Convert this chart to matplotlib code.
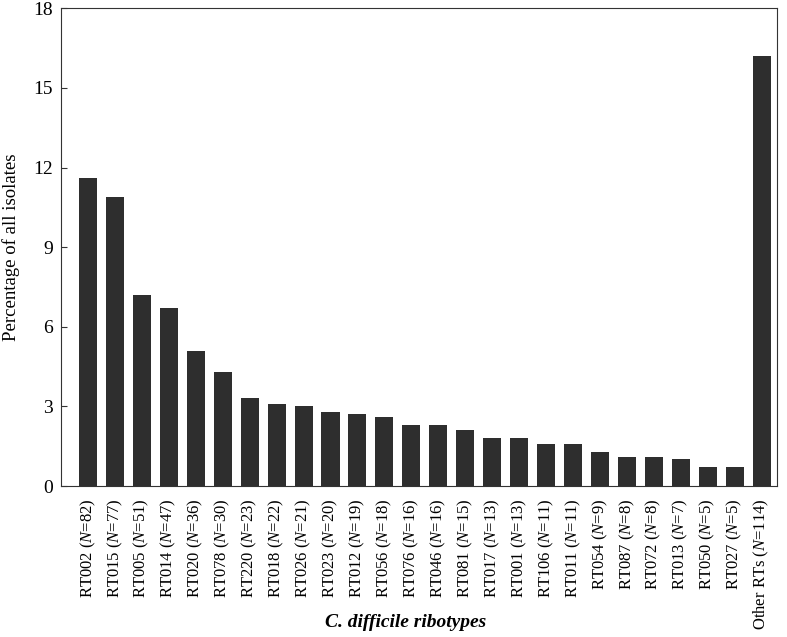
import matplotlib.pyplot as plt

plt.rcParams['font.family'] = 'Liberation Serif'
plt.rcParams['mathtext.fontset'] = 'custom'
plt.rcParams['mathtext.rm'] = 'Liberation Serif'
plt.rcParams['mathtext.it'] = 'Liberation Serif:italic'

ribotypes = ["RT002", "RT015", "RT005", "RT014", "RT020", "RT078", "RT220", "RT018",
             "RT026", "RT023", "RT012", "RT056", "RT076", "RT046", "RT081", "RT017",
             "RT001", "RT106", "RT011", "RT054", "RT087", "RT072", "RT013", "RT050",
             "RT027", "Other RTs"]
counts = [82, 77, 51, 47, 36, 30, 23, 22, 21, 20, 19, 18, 16, 16, 15, 13,
          13, 11, 11, 9, 8, 8, 7, 5, 5, 114]
percent = [11.6, 10.9, 7.2, 6.7, 5.1, 4.3, 3.3, 3.1, 3.0, 2.8, 2.7, 2.6, 2.3, 2.3, 2.1, 1.8,
           1.8, 1.6, 1.6, 1.3, 1.1, 1.1, 1.0, 0.7, 0.7, 16.2]
yticks = [0, 3, 6, 9, 12, 15, 18]

labels = [f"{r} ($\\mathit{{N}}$={n})" for r, n in zip(ribotypes, counts)]
x = list(range(len(ribotypes)))

fig = plt.figure(figsize=(7.87, 6.37), dpi=100)
ax = fig.add_axes([0.0775, 0.237, 0.9095, 0.75])
ax.bar(x, percent, width=0.67, color="#2e2e2e")

ax.set_xlim(-1, len(x) - 0.44)
ax.set_ylim(0, 18)
ax.set_yticks(yticks)
ax.set_xticks(x)
ax.set_xticklabels(labels, rotation=90, fontsize=12)
ax.tick_params(axis="x", length=0, pad=9)
ax.tick_params(axis="y", direction="in", length=4, labelsize=14, pad=6, color="#333333")
for s in ax.spines.values():
    s.set_color("#333333")

ax.set_ylabel("Percentage of all isolates", fontsize=13.5)
ax.yaxis.set_label_coords(-0.057, 0.5)
ax.set_xlabel("C. difficile ribotypes", fontsize=14, fontweight="bold", style="italic")
ax.xaxis.set_label_coords(0.482, -0.268)

fig.savefig("out.png", dpi=100)
